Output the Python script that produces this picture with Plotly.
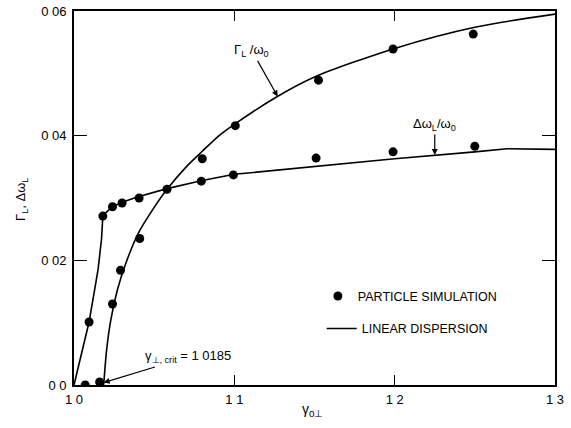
import plotly.graph_objects as go

# Linear dispersion curves
gamma_lin = [1.0185, 1.0205, 1.023, 1.027, 1.032, 1.04, 1.05, 1.058, 1.07, 1.08,
             1.09, 1.1, 1.125, 1.15, 1.2, 1.25, 1.3]
growth_lin = [0.0, 0.006, 0.0105, 0.0152, 0.0193, 0.0243, 0.0285, 0.0314, 0.0350, 0.0375,
              0.0399, 0.0418, 0.0460, 0.0494, 0.0540, 0.0574, 0.0595]

gamma_shift = [1.0, 1.0094, 1.015, 1.0172, 1.018, 1.024, 1.03, 1.04, 1.058, 1.08, 1.1,
               1.15, 1.2, 1.25, 1.27, 1.3]
shift_lin = [0.0, 0.0101, 0.0185, 0.0235, 0.0272, 0.0286, 0.0293, 0.0302, 0.0315, 0.0328,
             0.0338, 0.0351, 0.0363, 0.0374, 0.0379, 0.0378]

# Particle simulation results
gamma_sim_growth = [1.007, 1.016, 1.024, 1.029, 1.041, 1.058, 1.080, 1.1006, 1.1525, 1.199, 1.249]
growth_sim = [0.0, 0.0005, 0.013, 0.0184, 0.0235, 0.0314, 0.0363, 0.0416, 0.0489, 0.0539, 0.0563]

gamma_sim_shift = [1.0094, 1.018, 1.024, 1.030, 1.0406, 1.0794, 1.0994, 1.151, 1.199, 1.250]
shift_sim = [0.0101, 0.0271, 0.0286, 0.0292, 0.0300, 0.0327, 0.0337, 0.0364, 0.0374, 0.0383]

x_ticks = [1.0, 1.1, 1.2, 1.3]
x_ticktext = ["1 0", "1 1", "1 2", "1 3"]
y_ticks = [0.0, 0.02, 0.04, 0.06]
y_ticktext = ["0 0", "0 02", "0 04", "0 06"]

FONT = "Liberation Sans, Arial, sans-serif"
LINE = dict(color="black", width=1.6)
MARK = dict(color="black", size=9)

fig = go.Figure()
fig.add_trace(go.Scatter(x=gamma_lin, y=growth_lin, mode="lines",
                         line=dict(LINE, shape="spline", smoothing=0.8),
                         name="LINEAR DISPERSION", legend="legend2", showlegend=True))
fig.add_trace(go.Scatter(x=gamma_shift, y=shift_lin, mode="lines", line=LINE,
                         showlegend=False))
fig.add_trace(go.Scatter(x=gamma_sim_growth, y=growth_sim, mode="markers", marker=MARK,
                         name="PARTICLE SIMULATION", legend="legend", showlegend=True))
fig.add_trace(go.Scatter(x=gamma_sim_shift, y=shift_sim, mode="markers", marker=MARK,
                         showlegend=False))

axis_common = dict(showline=True, linecolor="black", linewidth=1.6, mirror="ticks",
                   ticks="inside", tickcolor="black", tickwidth=1.4, showgrid=False,
                   zeroline=False, automargin=False,
                   tickfont=dict(family=FONT, size=13, color="black"))

fig.update_xaxes(range=[1.0, 1.3], tickvals=x_ticks, ticktext=x_ticktext, ticklen=10,
                 ticklabelstandoff=2, **axis_common)
fig.update_yaxes(range=[0.0, 0.06], tickvals=y_ticks, ticktext=y_ticktext, ticklen=13,
                 ticklabelstandoff=3, **axis_common)

# Axis titles
fig.add_annotation(x=0.495, y=-0.067, xref="paper", yref="paper", showarrow=False,
                   text="γ<sub>0⊥</sub>", font=dict(family=FONT, size=14, color="black"),
                   xanchor="center", yanchor="middle")
fig.add_annotation(x=-0.108, y=0.495, xref="paper", yref="paper", showarrow=False,
                   text="Γ<sub>L</sub>, Δω<sub>L</sub>", textangle=-90,
                   font=dict(family=FONT, size=13, color="black"),
                   xanchor="center", yanchor="middle")

ann_font = dict(family=FONT, size=13, color="black")
arrow = dict(showarrow=True, arrowhead=2, arrowsize=1, arrowwidth=1.2, arrowcolor="black",
             axref="x", ayref="y", xref="x", yref="y", font=ann_font)
fig.add_annotation(x=1.127, y=0.0463, ax=1.111, ay=0.0536,
                   text="Γ<sub>L</sub> /ω<sub>0</sub>", **arrow)
fig.add_annotation(x=1.225, y=0.0369, ax=1.225, ay=0.0418,
                   text="Δω<sub>L</sub>/ω<sub>0</sub>", **arrow)
fig.add_annotation(x=1.0185, y=0.0004, ax=1.071, ay=0.0045,
                   text="γ<sub>⊥, crit</sub> = 1 0185", **arrow)

fig.update_layout(
    width=571, height=428,
    margin=dict(l=74, r=16, t=11, b=43),
    paper_bgcolor="white", plot_bgcolor="white",
    font=dict(family=FONT, size=13, color="black"),
    legend=dict(x=0.507, y=0.237, xanchor="left", yanchor="middle",
                bgcolor="rgba(0,0,0,0)", font=dict(family=FONT, size=12.5, color="black"),
                itemwidth=30),
    legend2=dict(x=0.515, y=0.15, xanchor="left", yanchor="middle",
                 bgcolor="rgba(0,0,0,0)", font=dict(family=FONT, size=12.5, color="black"),
                 itemwidth=30),
)

fig.write_html("out.html")
